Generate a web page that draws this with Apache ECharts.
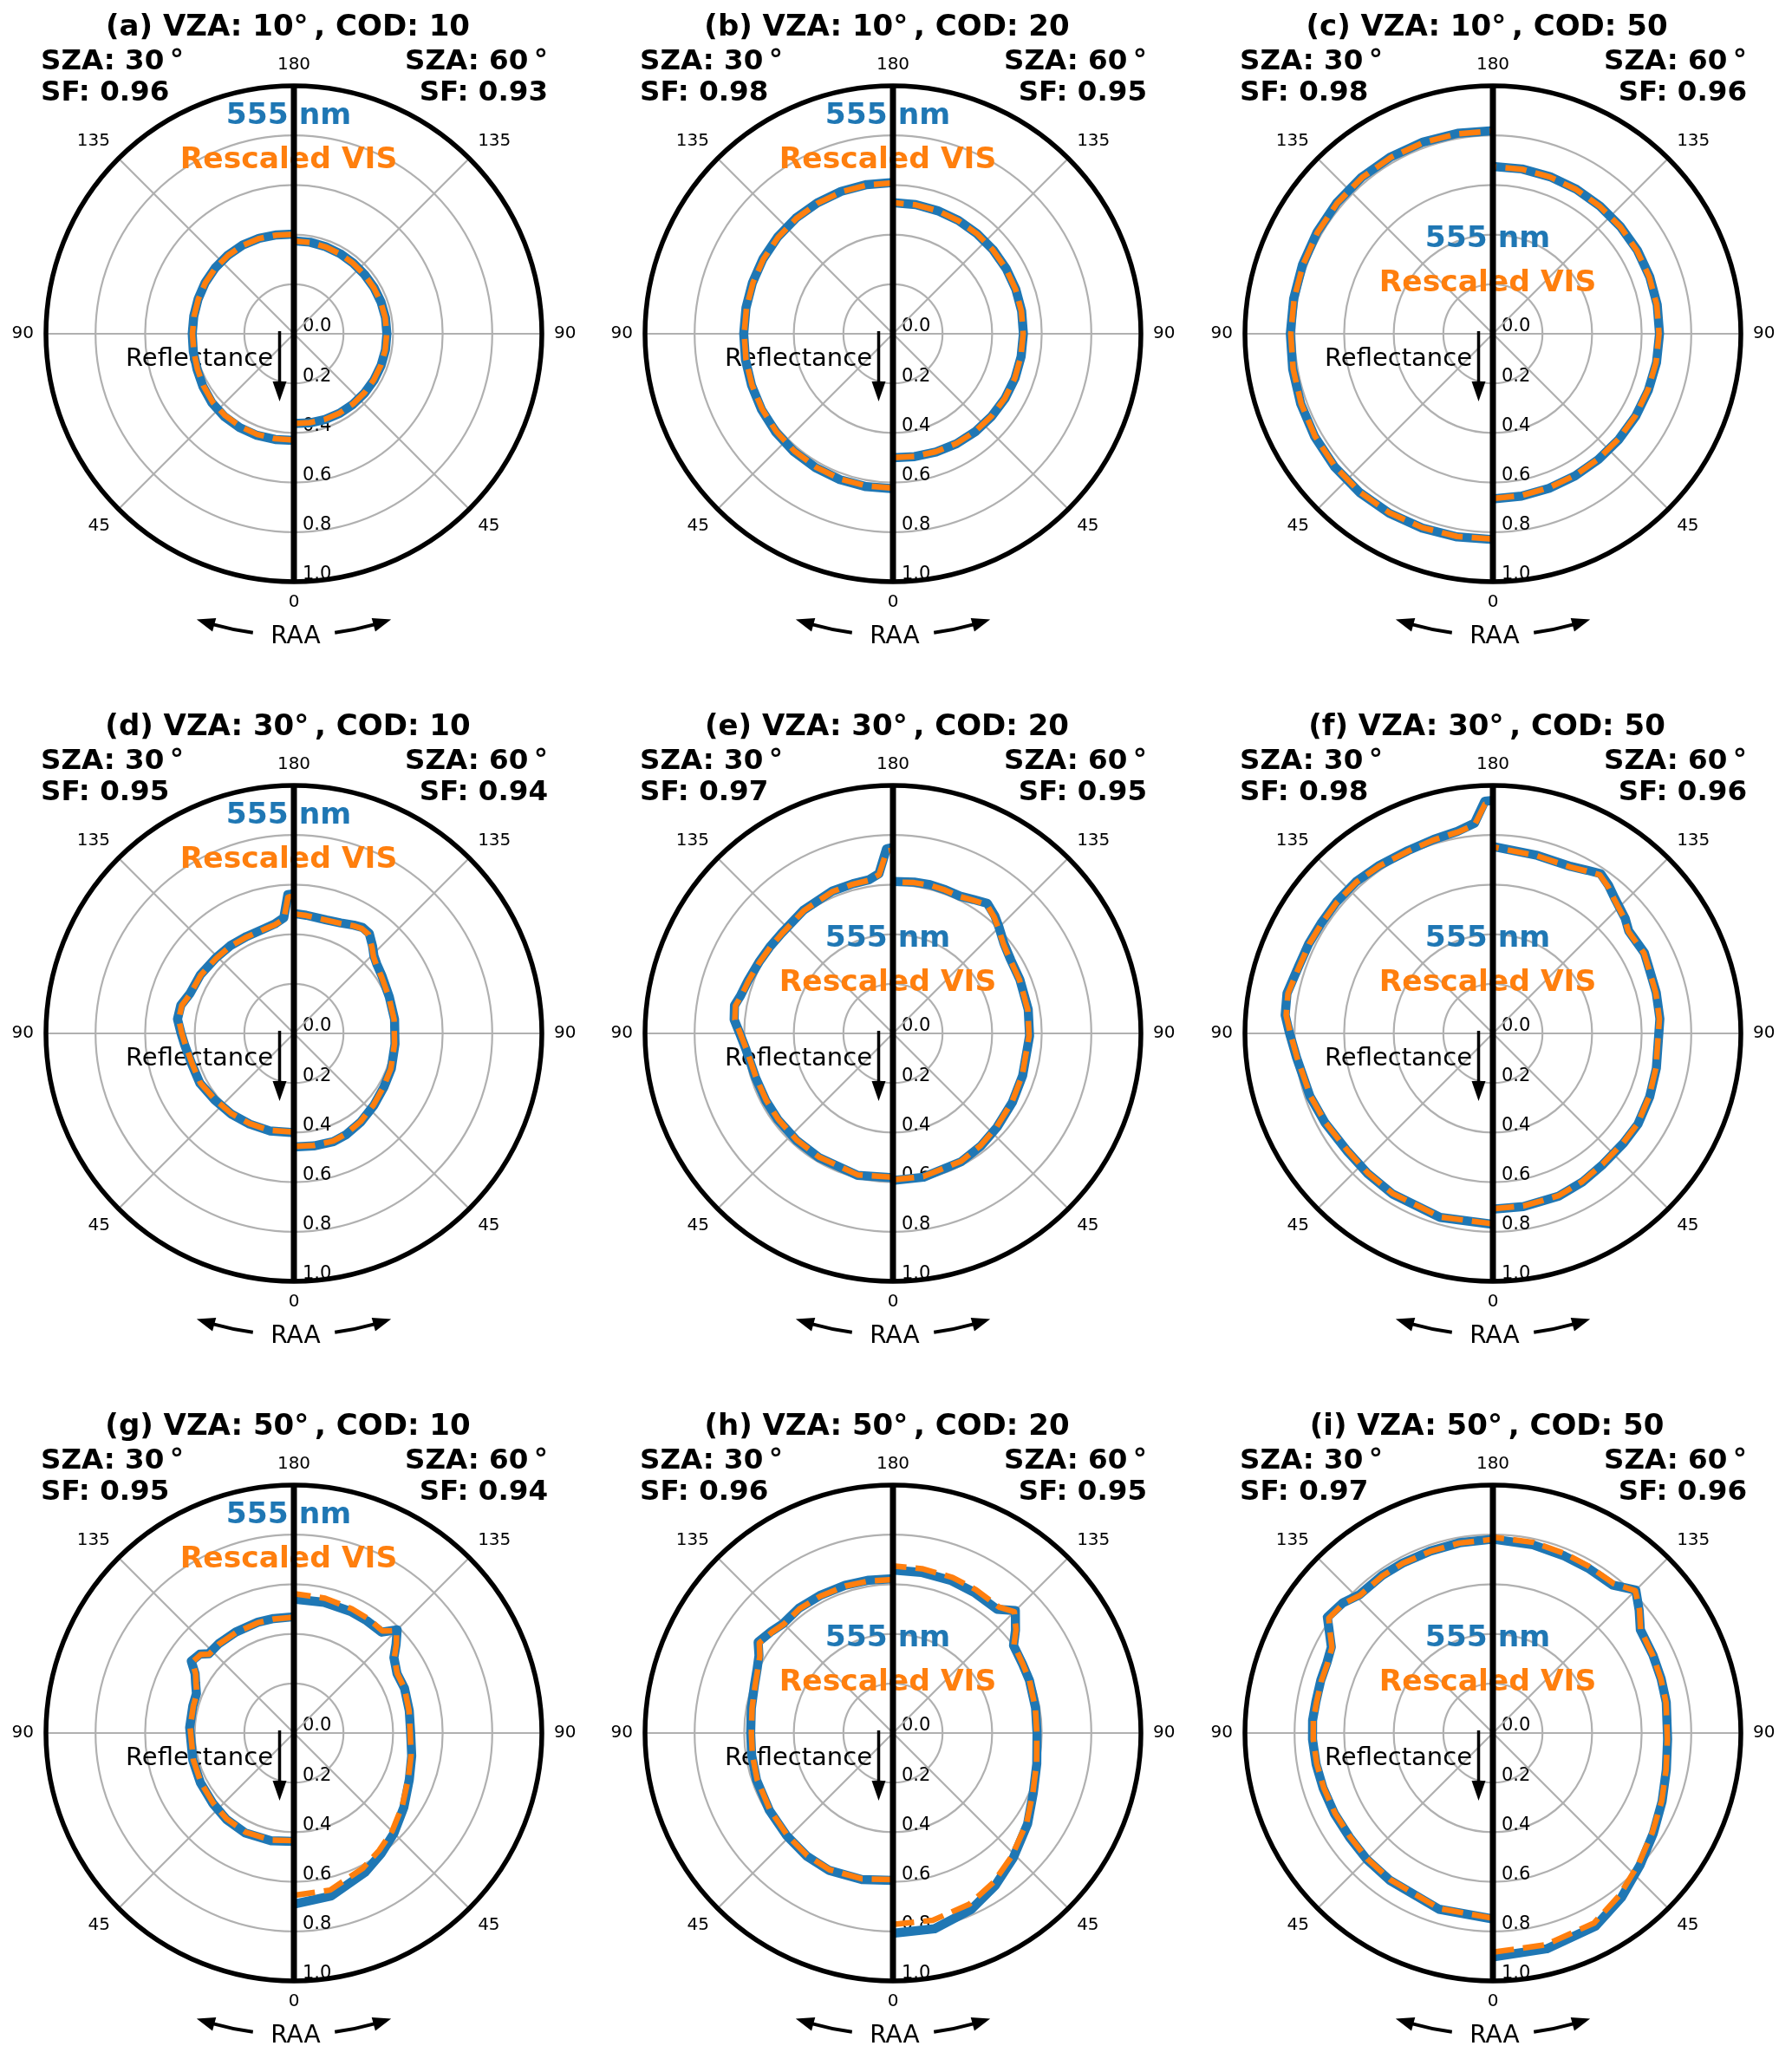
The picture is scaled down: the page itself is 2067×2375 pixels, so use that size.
<!DOCTYPE html>
<html><head><meta charset="utf-8">
<script src="https://cdn.jsdelivr.net/npm/echarts@6/dist/echarts.min.js"></script>
<style>html,body{margin:0;padding:0;background:#fff}#c{width:2067px;height:2375px}</style>
</head><body><div id="c"></div>
<script>
// ---------------- DATA ----------------
const panelLetters = ['a','b','c','d','e','f','g','h','i'];
const vzaValues = [10,10,10,30,30,30,50,50,50];
const codValues = [10,20,50,10,20,50,10,20,50];
const szaLeft = 30, szaRight = 60;
const sfLeft  = [0.96,0.98,0.98,0.95,0.97,0.98,0.95,0.96,0.97];
const sfRight = [0.93,0.95,0.96,0.94,0.95,0.96,0.94,0.95,0.96];
const legendHigh = [true,true,false,true,false,false,true,false,false];
const angleTicks = [0,45,90,135,180,225,270,315,360];
const radiusTicks = [0,0.2,0.4,0.6,0.8,1.0];
// RAA annotation arrows (degrees of RAA along an arc outside the circle)
const raaArrowSpan = [7.8, 15.8];
const raaArrowHeadBase = 15.3;
const raaArrowTip = 18.8;

const raa10 = [0,10,20,30,40,50,60,70,80,90,100,110,120,130,140,150,160,170,180];
// (a)
const s555_a_L = [0.430,0.433,0.436,0.437,0.436,0.432,0.424,0.416,0.412,0.410,0.410,0.411,0.413,0.414,0.414,0.413,0.410,0.405,0.402];
const vis_a_L  = [0.428,0.430,0.432,0.432,0.431,0.428,0.421,0.414,0.410,0.409,0.409,0.410,0.412,0.413,0.413,0.412,0.409,0.404,0.401];
const s555_a_R = [0.362,0.365,0.368,0.370,0.371,0.372,0.373,0.374,0.375,0.375,0.375,0.374,0.373,0.372,0.372,0.373,0.374,0.375,0.375];
const vis_a_R  = [0.362,0.364,0.367,0.369,0.370,0.371,0.372,0.373,0.374,0.374,0.374,0.373,0.372,0.371,0.371,0.372,0.373,0.374,0.374];
// (b)
const s555_b_L = [0.625,0.626,0.626,0.624,0.621,0.617,0.612,0.607,0.604,0.602,0.602,0.603,0.605,0.607,0.609,0.610,0.611,0.611,0.610];
const vis_b_L  = [0.622,0.623,0.623,0.621,0.618,0.614,0.609,0.605,0.602,0.600,0.600,0.601,0.603,0.605,0.607,0.608,0.609,0.609,0.608];
const s555_b_R = [0.500,0.503,0.507,0.512,0.516,0.519,0.522,0.524,0.525,0.526,0.527,0.527,0.527,0.527,0.527,0.528,0.528,0.529,0.529];
const vis_b_R  = [0.499,0.502,0.506,0.511,0.515,0.518,0.521,0.523,0.524,0.525,0.526,0.526,0.526,0.526,0.527,0.527,0.528,0.528,0.529];
// (c)
const s555_c_L = [0.830,0.832,0.834,0.836,0.836,0.834,0.830,0.825,0.820,0.817,0.816,0.817,0.819,0.822,0.824,0.824,0.823,0.821,0.819];
const vis_c_L  = [0.828,0.830,0.832,0.834,0.834,0.832,0.828,0.823,0.818,0.815,0.814,0.815,0.817,0.820,0.822,0.822,0.821,0.819,0.818];
const s555_c_R = [0.666,0.665,0.663,0.662,0.662,0.663,0.665,0.667,0.670,0.672,0.673,0.673,0.673,0.672,0.672,0.673,0.674,0.675,0.675];
const vis_c_R  = [0.664,0.663,0.661,0.660,0.660,0.661,0.663,0.665,0.668,0.670,0.671,0.671,0.671,0.671,0.671,0.672,0.673,0.674,0.674];
// (d)
const raa_d_L  = [0,14,26,38,50,62,73,84,90,97,104,111,122,134,144,154,165,170,175,177.5,180];
const s555_d_L = [0.400,0.405,0.407,0.412,0.417,0.429,0.430,0.443,0.455,0.473,0.470,0.449,0.445,0.438,0.437,0.435,0.440,0.448,0.468,0.560,0.563];
const vis_d_L  = [0.398,0.403,0.405,0.410,0.415,0.427,0.428,0.440,0.452,0.468,0.466,0.447,0.443,0.436,0.435,0.433,0.438,0.445,0.463,0.550,0.555];
const raa_d_R  = [0,10,20,27,37,48,59,70,84,98,111,123,130,134,138,143,147,151,157,164,174,180];
const s555_d_R = [0.458,0.461,0.465,0.460,0.448,0.434,0.423,0.418,0.410,0.410,0.412,0.424,0.436,0.449,0.474,0.505,0.509,0.499,0.484,0.476,0.479,0.484];
const vis_d_R  = [0.455,0.459,0.462,0.457,0.446,0.432,0.421,0.416,0.408,0.408,0.410,0.421,0.433,0.446,0.470,0.500,0.504,0.496,0.482,0.475,0.478,0.482];
// (e)
const raa_e_L  = [0,14,31,42,53,62,72,84,90,95,100,104,110,118,125,132,144,157,165,171,175,178,180];
const s555_e_L = [0.582,0.590,0.583,0.581,0.580,0.580,0.582,0.597,0.618,0.643,0.649,0.633,0.622,0.612,0.607,0.604,0.614,0.624,0.625,0.627,0.647,0.745,0.750];
const vis_e_L  = [0.580,0.588,0.581,0.579,0.578,0.578,0.580,0.595,0.616,0.640,0.645,0.630,0.620,0.610,0.605,0.602,0.612,0.622,0.623,0.625,0.643,0.735,0.740];
const raa_e_R  = [0,12,28,38,48,60,72,89,100,113,122,129,135,139,144,149,154,160,166,172,180];
const s555_e_R = [0.593,0.593,0.586,0.576,0.565,0.556,0.550,0.551,0.554,0.556,0.560,0.576,0.605,0.627,0.648,0.630,0.616,0.617,0.618,0.616,0.613];
const vis_e_R  = [0.590,0.590,0.584,0.574,0.563,0.554,0.548,0.549,0.552,0.554,0.558,0.573,0.601,0.622,0.643,0.627,0.614,0.615,0.616,0.614,0.611];
// (f)
const raa_f_L  = [0,16,32,42,51,62,71,83,90,95,101,109,116,123,130,138,146,155,163,170,175,178,180];
const s555_f_L = [0.770,0.772,0.764,0.758,0.755,0.767,0.780,0.798,0.820,0.841,0.846,0.829,0.826,0.823,0.824,0.824,0.818,0.813,0.818,0.827,0.851,0.937,0.940];
const vis_f_L  = [0.768,0.770,0.762,0.756,0.753,0.765,0.778,0.796,0.817,0.837,0.842,0.826,0.824,0.821,0.822,0.822,0.816,0.811,0.816,0.824,0.845,0.925,0.930];
const raa_f_R  = [0,10,22,31,40,50,58,68,78,95,104,113,118,127,131,138,142,146,150,155,166,180];
const s555_f_R = [0.709,0.709,0.708,0.700,0.690,0.688,0.690,0.682,0.674,0.676,0.679,0.683,0.692,0.686,0.707,0.734,0.758,0.777,0.760,0.743,0.740,0.754];
const vis_f_R  = [0.707,0.707,0.706,0.698,0.688,0.686,0.688,0.680,0.672,0.674,0.677,0.681,0.690,0.684,0.704,0.730,0.753,0.771,0.756,0.740,0.738,0.752];
// (g)
const raa_g_L  = [0,12,26,38,49,62,75,93,105,112,117,121,125,130,133,140,150,162,170,180];
const s555_g_L = [0.437,0.444,0.448,0.442,0.433,0.427,0.422,0.421,0.422,0.424,0.445,0.465,0.505,0.495,0.469,0.471,0.470,0.470,0.469,0.469];
const vis_g_L  = [0.434,0.441,0.445,0.440,0.431,0.425,0.420,0.419,0.420,0.422,0.443,0.462,0.500,0.492,0.467,0.469,0.468,0.468,0.467,0.467];
const raa_g_R  = [0,13,27,36,45,56,68,79,90,101,112,120,127,131,135,139,147,155,167,180];
const s555_g_R = [0.690,0.674,0.631,0.600,0.571,0.535,0.502,0.484,0.471,0.474,0.481,0.480,0.505,0.546,0.589,0.539,0.540,0.541,0.541,0.540];
const vis_g_R  = [0.655,0.650,0.612,0.585,0.560,0.527,0.497,0.481,0.469,0.473,0.481,0.481,0.507,0.548,0.585,0.545,0.550,0.553,0.558,0.562];
// (h)
const raa_h_L  = [0,12,25,35,46,58,71,81,90,100,109,115,120,124,130,135,143,152,162,171,180];
const s555_h_L = [0.594,0.604,0.611,0.606,0.596,0.588,0.582,0.577,0.574,0.580,0.591,0.605,0.624,0.656,0.639,0.625,0.630,0.628,0.626,0.624,0.622];
const vis_h_L  = [0.591,0.601,0.608,0.603,0.593,0.585,0.579,0.574,0.571,0.577,0.588,0.602,0.620,0.650,0.635,0.622,0.627,0.625,0.623,0.621,0.619];
const raa_h_R  = [0,12,24,34,44,56,67,78,90,100,111,118,126,130,135,140,150,159,170,180];
const s555_h_R = [0.808,0.807,0.778,0.740,0.699,0.655,0.615,0.593,0.581,0.584,0.590,0.592,0.601,0.645,0.698,0.652,0.655,0.658,0.658,0.657];
const vis_h_R  = [0.772,0.772,0.756,0.726,0.690,0.650,0.613,0.592,0.580,0.583,0.590,0.593,0.603,0.648,0.692,0.664,0.668,0.672,0.673,0.674];
// (i)
const raa_i_L  = [0,17,35,45,54,63,72,80,88,94,100,107,113,118,123,125,131,136,145,152,161,170,180];
const s555_i_L = [0.750,0.743,0.725,0.720,0.715,0.717,0.720,0.724,0.728,0.729,0.725,0.726,0.727,0.738,0.790,0.815,0.801,0.775,0.777,0.776,0.776,0.779,0.782];
const vis_i_L  = [0.747,0.740,0.722,0.717,0.712,0.714,0.717,0.721,0.725,0.726,0.722,0.723,0.724,0.735,0.786,0.808,0.797,0.772,0.775,0.775,0.775,0.778,0.781];
const raa_i_R  = [0,14,28,38,48,58,68,78,88,100,108,116,125,130,135,141,150,158,168,180];
const s555_i_R = [0.903,0.897,0.882,0.842,0.798,0.763,0.736,0.715,0.705,0.710,0.713,0.718,0.726,0.770,0.815,0.768,0.768,0.770,0.776,0.782];
const vis_i_R  = [0.884,0.880,0.868,0.830,0.790,0.758,0.734,0.714,0.704,0.709,0.712,0.717,0.727,0.772,0.812,0.775,0.776,0.780,0.786,0.790];

// --------------- BUILD ---------------
const curves = [
  [raa10, s555_a_L, vis_a_L, raa10, s555_a_R, vis_a_R],
  [raa10, s555_b_L, vis_b_L, raa10, s555_b_R, vis_b_R],
  [raa10, s555_c_L, vis_c_L, raa10, s555_c_R, vis_c_R],
  [raa_d_L, s555_d_L, vis_d_L, raa_d_R, s555_d_R, vis_d_R],
  [raa_e_L, s555_e_L, vis_e_L, raa_e_R, s555_e_R, vis_e_R],
  [raa_f_L, s555_f_L, vis_f_L, raa_f_R, s555_f_R, vis_f_R],
  [raa_g_L, s555_g_L, vis_g_L, raa_g_R, s555_g_R, vis_g_R],
  [raa_h_L, s555_h_L, vis_h_L, raa_h_R, s555_h_R, vis_h_R],
  [raa_i_L, s555_i_L, vis_i_L, raa_i_R, s555_i_R, vis_i_R]
];

const CX = [339, 1030, 1722];
const CY = [385, 1192, 1999];
const R = 286;
const ARC_R = 348;
const FF = '"DejaVu Sans", sans-serif';
const BLUE = '#1f77b4', ORANGE = '#ff7f0e', GRID = '#b0b0b0';
const DEG = Math.PI / 180;

const polar = [], angleAxis = [], radiusAxis = [], series = [], graphics = [];

function toPairs(raa, r, mirror) {
  return raa.map((t, k) => [r[k], mirror ? 360 - t : t]);
}

panelLetters.forEach((letter, i) => {
  const cx = CX[i % 3], cy = CY[Math.floor(i / 3)];
  polar.push({ center: [cx, cy], radius: R });
  angleAxis.push({
    polarIndex: i, type: 'value', min: angleTicks[0], max: angleTicks[angleTicks.length - 1], interval: 45,
    startAngle: 270, clockwise: true, z: 1,
    axisLine: { lineStyle: { color: '#000', width: 5.5 } },
    axisTick: { show: false },
    axisLabel: {
      margin: 14, color: '#000', fontSize: 20, fontFamily: FF,
      formatter: v => String(v > 180 ? 360 - v : v)
    },
    splitLine: { lineStyle: { color: GRID, width: 2.2 } }
  });
  radiusAxis.push({
    polarIndex: i, type: 'value', min: radiusTicks[0], max: radiusTicks[radiusTicks.length - 1], interval: 0.2, z: 0,
    axisLine: { show: false }, axisTick: { show: false },
    axisLabel: {
      margin: 10, color: '#000', fontSize: 21, fontFamily: FF, lineHeight: 16,
      verticalAlign: 'bottom', align: 'left',
      formatter: v => v.toFixed(1)
    },
    splitLine: { lineStyle: { color: GRID, width: 2.2 } }
  });

  const c = curves[i];
  const base = { type: 'line', coordinateSystem: 'polar', polarIndex: i, symbol: 'none',
    silent: true, animation: false, clip: false };
  const blueStyle = { color: BLUE, width: 10.5, cap: 'butt', join: 'round' };
  const orangeStyle = { color: ORANGE, width: 6.5, type: [24.5, 10.5], cap: 'butt', join: 'round' };
  series.push(Object.assign({}, base, { name: '555 nm', data: toPairs(c[0], c[1], false), z: 3, lineStyle: blueStyle }));
  series.push(Object.assign({}, base, { name: '555 nm', data: toPairs(c[3], c[4], true), z: 3, lineStyle: blueStyle }));
  series.push(Object.assign({}, base, { name: 'Rescaled VIS', data: toPairs(c[0], c[2], false), z: 4, lineStyle: orangeStyle }));
  series.push(Object.assign({}, base, { name: 'Rescaled VIS', data: toPairs(c[3], c[5], true), z: 4, lineStyle: orangeStyle }));
  // central divider between the SZA halves
  series.push(Object.assign({}, base, { data: [[1, 0], [1, 180]], z: 6,
    lineStyle: { color: '#000', width: 7, cap: 'butt' } }));

  // ---- annotations ----
  const txt = (x, y, text, size, weight, color, align) => ({
    type: 'text', x, y, silent: true, z: 2,
    style: { text, fill: color, font: `${weight} ${size}px ${FF}`,
      textAlign: align, align, textVerticalAlign: 'middle', verticalAlign: 'middle' }
  });
  const title = `(${letter}) VZA: ${vzaValues[i]}°\u2009, COD: ${codValues[i]}`;
  graphics.push(txt(cx - 7, cy - 353, title, 34, 'bold', '#000', 'center'));
  graphics.push(txt(cx - 292, cy - 313, `SZA: ${szaLeft}\u2009°`, 32.5, 'bold', '#000', 'left'));
  graphics.push(txt(cx - 292, cy - 277, `SF: ${sfLeft[i].toFixed(2)}`, 32.5, 'bold', '#000', 'left'));
  graphics.push(txt(cx + 293, cy - 313, `SZA: ${szaRight}\u2009°`, 32.5, 'bold', '#000', 'right'));
  graphics.push(txt(cx + 293, cy - 277, `SF: ${sfRight[i].toFixed(2)}`, 32.5, 'bold', '#000', 'right'));
  const hi = legendHigh[i];
  graphics.push(txt(cx - 6, cy + (hi ? -251 : -109), '555 nm', 34.5, 'bold', BLUE, 'center'));
  graphics.push(txt(cx - 6, cy + (hi ? -200 : -58), 'Rescaled VIS', 34.5, 'bold', ORANGE, 'center'));
  graphics.push(txt(cx - 24, cy + 29.5, 'Reflectance', 29, 'normal', '#000', 'right'));
  graphics.push(txt(cx + 2, cy + 350, 'RAA', 28, 'normal', '#000', 'center'));
  // reflectance direction arrow
  graphics.push({ type: 'line', silent: true, z: 2,
    shape: { x1: cx - 16.5, y1: cy - 3, x2: cx - 16.5, y2: cy + 58 },
    style: { stroke: '#000', lineWidth: 3.5 } });
  graphics.push({ type: 'polygon', silent: true, z: 2,
    shape: { points: [[cx - 24.5, cy + 55], [cx - 8.5, cy + 55], [cx - 16.5, cy + 78]] },
    style: { fill: '#000' } });
  // RAA curved arrows on both sides (left: side=+1, right: side=-1)
  [1, -1].forEach(side => {
    const P = (rr, a) => [cx - side * rr * Math.sin(a * DEG), cy + rr * Math.cos(a * DEG)];
    const a0 = raaArrowSpan[0], a1 = raaArrowSpan[1];
    graphics.push({ type: 'arc', silent: true, z: 2,
      shape: side > 0
        ? { cx, cy, r: ARC_R, startAngle: Math.PI / 2 + a0 * DEG, endAngle: Math.PI / 2 + a1 * DEG, clockwise: true }
        : { cx, cy, r: ARC_R, startAngle: Math.PI / 2 - a1 * DEG, endAngle: Math.PI / 2 - a0 * DEG, clockwise: true },
      style: { stroke: '#000', lineWidth: 4, fill: null } });
    graphics.push({ type: 'polygon', silent: true, z: 2,
      shape: { points: [P(ARC_R + 8, raaArrowHeadBase), P(ARC_R - 8, raaArrowHeadBase), P(ARC_R, raaArrowTip)] },
      style: { fill: '#000' } });
  });
});

const chart = echarts.init(document.getElementById('c'), null, { renderer: 'canvas' });
chart.setOption({
  backgroundColor: '#fff',
  animation: false,
  polar, angleAxis, radiusAxis, series,
  graphic: graphics
});
</script></body></html>
